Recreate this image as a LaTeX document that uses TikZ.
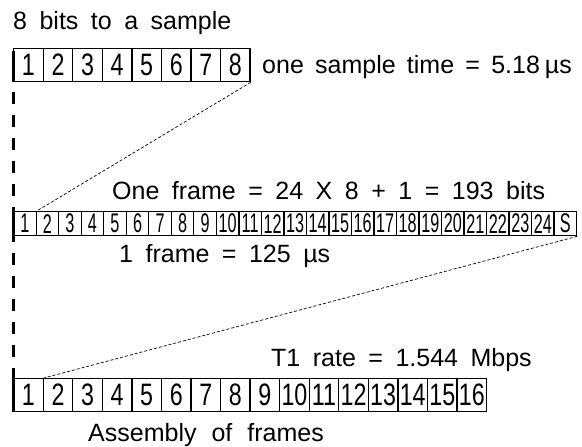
\documentclass[tikz,border=0pt]{standalone}
\usepackage{fontspec}
\setmainfont{Liberation Sans}
\newfontfamily\cellfontA[FakeStretch=0.75]{Liberation Sans}
\newfontfamily\cellfontB[FakeStretch=0.6]{Liberation Sans}
\newcommand\lbltext{\fontsize{25}{25}\selectfont\spaceskip=0.5em plus 0pt minus 0pt\relax}
\begin{document}
\begin{tikzpicture}[x=1pt,y=-1pt,
  lbl/.style={anchor=base west, inner sep=0pt, font=\lbltext},
  cellA/.style={draw, line width=1.3pt, minimum width=29.56pt, minimum height=33pt, inner sep=0pt, anchor=north west, font=\cellfontA\fontsize{31}{31}\selectfont},
  cellB/.style={draw, line width=1.3pt, minimum width=22.52pt, minimum height=24pt, inner sep=0pt, anchor=north west, font=\cellfontB\fontsize{27}{27}\selectfont},
  thinDash/.style={line width=0.7pt, dash pattern=on 3pt off 2pt},
  thickEdge/.style={line width=3pt}]
\useasboundingbox (0,0) rectangle (582,447);
% row 1
\foreach \i in {1,...,8}{
  \node[cellA] (a\i) at ({13+(\i-1)*29.56},48) {\i};
}
% row 2
\foreach \i in {1,...,24}{
  \node[cellB] (b\i) at ({13+(\i-1)*22.52},211) {\i};
}
\node[cellB] (b25) at ({13+24*22.52},211) {S};
% row 3
\foreach \i in {1,...,16}{
  \node[cellA] (c\i) at ({13+(\i-1)*29.56},378) {\i};
}
% labels
\node[lbl] (t1) at (13,29) {8 bits to a sample};
\node[lbl] (t2) at (262,73) {\spaceskip=0.45em\relax one sample time = 5.18\hspace{0.2em}µs};
\node[lbl] (t3) at (112,199) {One frame = 24 X 8 + 1 = 193 bits};
\node[lbl] (t4) at (119,262) {1 frame = 125 µs};
\node[lbl] (t5) at (271,366) {T1 rate = 1.544 Mbps};
\node[lbl] (t6) at (88,441) {\spaceskip=0.6em\relax Assembly of frames};
% thin dashed connectors
\draw[thinDash] (a8.south east) -- (b1.north east);
\draw[thinDash] (b25.south east) -- (c1.north east);
% thick left edges and dashed vertical
\coordinate (v1) at (a1.south west);
\coordinate (v2) at (c1.north west);
\draw[line width=3pt, dash pattern=on 11.5pt off 11.5pt, dash phase=13pt] (v1) -- (v2);
\draw[thickEdge] ([yshift=-3pt]a1.north west) -- (a1.south west);
\draw[thickEdge] ([yshift=-5pt]b1.north west) -- (b1.south west);
\draw[thickEdge] (c1.north west) -- (c1.south west);
\end{tikzpicture}
\end{document}
